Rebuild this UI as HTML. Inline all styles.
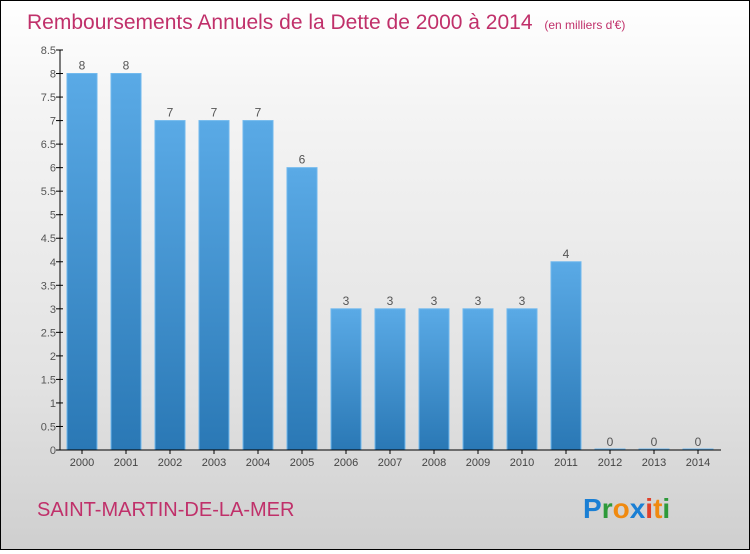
<!DOCTYPE html>
<html><head><meta charset="utf-8"><style>
body{margin:0;width:750px;height:550px;overflow:hidden;font-family:"Liberation Sans",sans-serif}
#wrap{position:absolute;left:0;top:0;width:748px;height:548px;border:1px solid #000;background:linear-gradient(#ffffff,#f4f4f4 20%,#e2e2e2 70%,#cfcfcf)}
</style></head><body>
<div id="wrap">
<svg width="748" height="548" id="svg">
<defs><linearGradient id="bg" x1="0" y1="0" x2="0" y2="1"><stop offset="0" stop-color="#5aaae6"/><stop offset="1" stop-color="#2a78b5"/></linearGradient></defs>
<text x="26" y="28" font-size="21" fill="#c0306a">Remboursements Annuels de la Dette de 2000 à 2014 <tspan font-size="12" dx="6">(en milliers d'€)</tspan></text>
<text x="36" y="515" font-size="20" fill="#c0306a">SAINT-MARTIN-DE-LA-MER</text>
<text x="582" y="517" font-size="28" font-weight="bold"><tspan fill="#1a7fd4">P</tspan><tspan fill="#2e9a3a">r</tspan><tspan fill="#f08a10">o</tspan><tspan fill="#1a7fd4">x</tspan><tspan fill="#e0402a">i</tspan><tspan fill="#f08a10">t</tspan><tspan fill="#2e9a3a">i</tspan></text>
</svg></div>
<script>
const years=["2000","2001","2002","2003","2004","2005","2006","2007","2008","2009","2010","2011","2012","2013","2014"];
const values=[8,8,7,7,7,6,3,3,3,3,3,4,0,0,0];
const yTicks=[0,0.5,1,1.5,2,2.5,3,3.5,4,4.5,5,5.5,6,6.5,7,7.5,8,8.5];
const svg=document.getElementById('svg');const NS="http://www.w3.org/2000/svg";
const y0=449,yTop=49,maxV=8.5,ax=59;
const yS=v=>y0-(v/maxV)*(y0-yTop);
const xS=i=>81+i*44;
function mk(t,a,txt){const e=document.createElementNS(NS,t);for(const k in a)e.setAttribute(k,a[k]);if(txt!==undefined)e.textContent=txt;svg.appendChild(e);return e;}
yTicks.forEach(v=>{
 const l=mk('line',{x1:ax-4,x2:ax+3,y1:yS(v),y2:yS(v),stroke:'#000'});
 
 
 const t=mk('text',{x:ax-4,y:yS(v)+4,'font-size':11,fill:'#555','text-anchor':'end'},String(v));
 
 
});
values.forEach((v,i)=>{
 const x=xS(i);
 const b=mk('rect',{x:x-15,y:yS(v)-(v===0?1:0),width:30,height:Math.max(y0-yS(v),1),fill:'url(#bg)',stroke:'#6fb8ee','stroke-width':1});
 
 
 const t=mk('text',{x:x,y:yS(v)-4,'font-size':12,fill:'#555','text-anchor':'middle'},String(v));
 
 
 const tk=mk('line',{x1:x,x2:x,y1:y0,y2:y0+4,stroke:'#000'});
 
 
 const xl=mk('text',{x:x,y:y0+16,'font-size':11,fill:'#444','text-anchor':'middle'},years[i]);
 
 
});
const ya=mk('line',{x1:ax,x2:ax,y1:yTop,y2:y0,stroke:'#000'});


const xa=mk('line',{x1:ax,x2:720,y1:y0,y2:y0,stroke:'#000'});


</script>
</body></html>
